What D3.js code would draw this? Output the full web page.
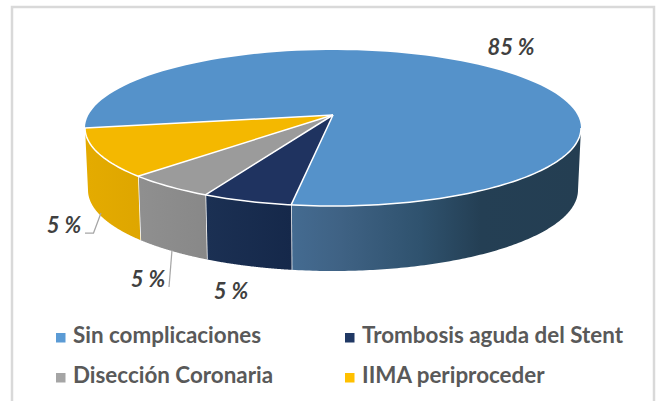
<!DOCTYPE html>
<html>
<head>
<meta charset="utf-8">
<script src="https://cdn.jsdelivr.net/npm/d3@7"></script>
<style>
  html, body { margin: 0; padding: 0; background: #fff; }
  svg { display: block; }
  text { font-family: Lato, "Open Sans", sans-serif; fill: #595959; }
</style>
</head>
<body>
<script>
// Data
const categories = ["Sin complicaciones", "Trombosis aguda del Stent", "Disección Coronaria", "IIMA periproceder"];
const labelValues = [85, 5, 5, 5];                 // what the chart prints
const drawnShares = [77.7, 5.9, 5.8, 10.6];        // how wide the slices look on the ellipse
const topColors = ["#5592ca", "#1f3360", "#9b9b9b", "#f4b800"];
const legendColors = ["#5b9bd5", "#203864", "#a5a5a5", "#ffc000"];
const wallStops = [
	[[0, "#446b91"], [0.17, "#3f6284"], [0.45, "#2f526e"], [0.66, "#243f54"], [1, "#243e52"]],
	[[0, "#1b3053"], [1, "#15284a"]],
	[[0, "#8f8f8f"], [1, "#888888"]],
	[[0, "#e4ab00"], [1, "#dea600"]]
];

const width = 660, height = 401;
const topEllipse = { cx: 333, cy: 128, rx: 248, ry: 78 };
const baseEllipse = { cx: 333, cy: 190, rx: 245, ry: 81 };
const apex = [333, 115];   // the perspective pushes the centre of the pie upward

const svg = d3.select("body").append("svg")
	.attr("width", width)
	.attr("height", height);

svg.append("rect")
	.attr("x", 12).attr("y", 7)
	.attr("width", 642).attr("height", height + 20)
	.attr("fill", "#fff")
	.attr("stroke", "#d9d9d9")
	.attr("stroke-width", 2.5);

// slices start on the left edge and run clockwise over the top
const pie = d3.pie().sort(null).startAngle(Math.PI * 1.5).endAngle(Math.PI * 3.5);
const arcs = pie(drawnShares);

const onEllipse = (e, a) => [e.cx + e.rx * Math.sin(a), e.cy - e.ry * Math.cos(a)];
const sweep = (e, a0, a1) => d3.range(0, 1.0001, 1 / 120).map(t => onEllipse(e, a0 + (a1 - a0) * t));
const line = d3.line();

const defs = svg.append("defs");
const frontStart = Math.PI * 2.5;   // only this part of the rim faces the viewer

//////////////////// side walls ////////////////////
arcs.forEach((d, i) => {
	const a0 = Math.max(d.startAngle, frontStart), a1 = d.endAngle;
	const x0 = onEllipse(baseEllipse, a0)[0], x1 = onEllipse(baseEllipse, a1)[0];
	const grad = defs.append("linearGradient")
		.attr("id", "wall" + i)
		.attr("gradientUnits", "userSpaceOnUse")
		.attr("x1", Math.min(x0, x1)).attr("x2", Math.max(x0, x1))
		.attr("y1", 0).attr("y2", 0);
	wallStops[i].forEach(s => grad.append("stop").attr("offset", s[0]).attr("stop-color", s[1]));

	const pts = sweep(topEllipse, a0, a1).concat(sweep(baseEllipse, a0, a1).reverse());
	svg.append("path")
		.attr("d", line(pts) + "Z")
		.attr("fill", "url(#wall" + i + ")");

	// white seam on the wall's slice boundaries
	if (i < 3) {
		svg.append("line")
			.attr("x1", onEllipse(topEllipse, a1)[0]).attr("y1", onEllipse(topEllipse, a1)[1])
			.attr("x2", onEllipse(baseEllipse, a1)[0]).attr("y2", onEllipse(baseEllipse, a1)[1])
			.attr("stroke", "#fff")
			.attr("stroke-width", 1.5);
	}
});

//////////////////// top face ////////////////////
arcs.forEach((d, i) => {
	svg.append("path")
		.attr("d", line([apex].concat(sweep(topEllipse, d.startAngle, d.endAngle))) + "Z")
		.attr("fill", topColors[i]);
});

// white rim along the front, white spokes to the apex
svg.append("path")
	.attr("d", line(sweep(topEllipse, frontStart, Math.PI * 3.5)))
	.attr("fill", "none")
	.attr("stroke", "#fff")
	.attr("stroke-width", 1.5);
arcs.forEach(d => {
	const p = onEllipse(topEllipse, d.startAngle);
	svg.append("line")
		.attr("x1", apex[0]).attr("y1", apex[1])
		.attr("x2", p[0]).attr("y2", p[1])
		.attr("stroke", "#fff")
		.attr("stroke-width", 1.5);
});

//////////////////// leader lines ////////////////////
const leaders = [
	[[101, 213], [93.5, 233], [85, 233]],
	[[172, 250], [169, 287]]
];
svg.selectAll(".leader")
	.data(leaders)
	.enter().append("path")
	.attr("class", "leader")
	.attr("d", d => line(d))
	.attr("fill", "none")
	.attr("stroke", "#a6a6a6")
	.attr("stroke-width", 1.25);

//////////////////// data labels ////////////////////
const labelSpots = [[511, 55], [231, 299], [148, 287], [64, 233]];
svg.selectAll(".dataLabel")
	.data(labelValues)
	.enter().append("text")
	.attr("class", "dataLabel")
	.attr("x", (d, i) => labelSpots[i][0])
	.attr("y", (d, i) => labelSpots[i][1])
	.attr("text-anchor", "middle")
	.style("font-size", "22px")
	.style("font-style", "italic")
	.style("font-weight", 700)
	.style("fill", "#404040")
	.text(d => d + " %");

//////////////////// legend ////////////////////
const legendX = d3.scaleOrdinal().domain([0, 1]).range([56, 345]);
const legendY = d3.scaleOrdinal().domain([0, 1]).range([333, 373]);
const legend = svg.selectAll(".legendItem")
	.data(categories)
	.enter().append("g")
	.attr("class", "legendItem")
	.attr("transform", (d, i) => `translate(${legendX(i % 2)},${legendY(Math.floor(i / 2))})`);
legend.append("rect")
	.attr("width", 9.5).attr("height", 9.5)
	.attr("fill", (d, i) => legendColors[i]);
legend.append("text")
	.attr("x", 17)
	.attr("y", 10)
	.style("font-size", "22.4px")
	.style("font-weight", 700)
	.text(d => d);
</script>
</body>
</html>
